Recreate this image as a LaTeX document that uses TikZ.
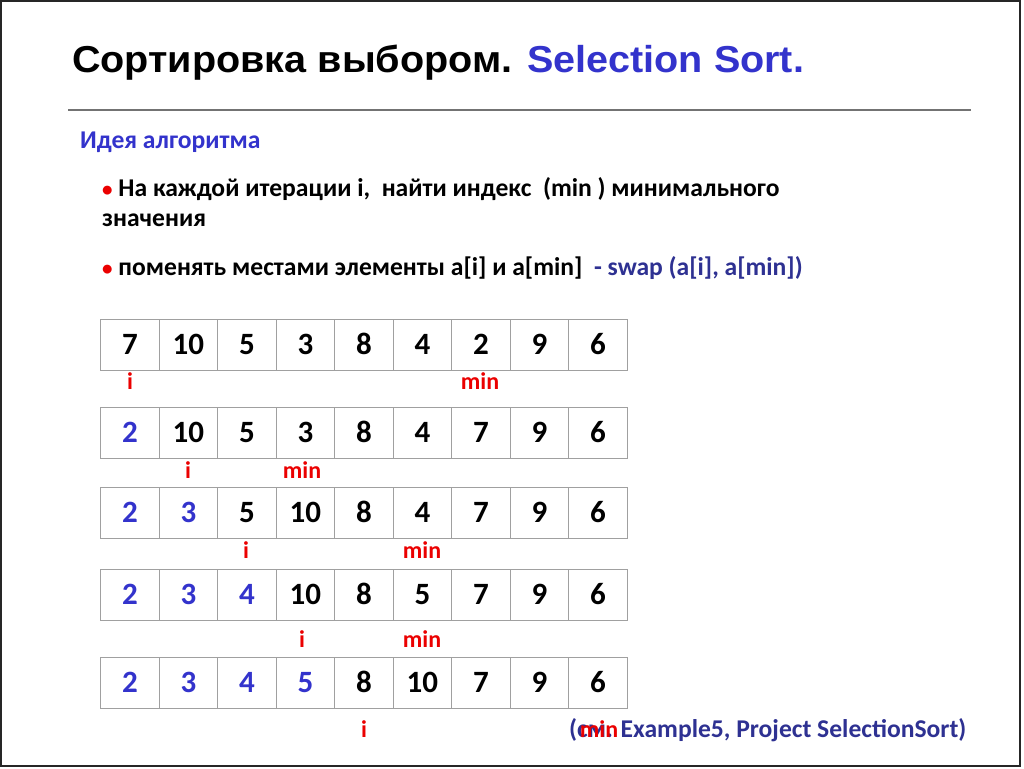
\documentclass[tikz,border=0pt]{standalone}
\usepackage{fontspec}
\setmainfont{Carlito}
\newfontfamily\titlefont{Liberation Sans}
\definecolor{tblue}{RGB}{51,51,204}
\definecolor{nblue}{RGB}{46,49,146}
\definecolor{tred}{RGB}{235,0,0}
\definecolor{cellgray}{RGB}{160,160,160}
\newcommand{\bul}{\textcolor{tred}{\fontsize{21}{21}\selectfont•}}
\begin{document}
\begin{tikzpicture}[x=1pt,y=-1pt,
  cell/.style={draw=cellgray, line width=1.4pt, minimum width=58.5pt, minimum height=51.4pt,
    inner sep=0pt, text height=19.6pt, text depth=0pt, anchor=center,
    font=\fontsize{31}{31}\selectfont\bfseries},
  lbl/.style={anchor=base, inner sep=0pt, text=tred, font=\fontsize{24}{24}\selectfont\bfseries},
  body/.style={anchor=base west, inner sep=0pt, font=\fontsize{25.6}{25.6}\selectfont\bfseries}]
\useasboundingbox (0,0) rectangle (1024,768);
\fill[white] (0,0) rectangle (1024,768);
\draw[line width=2pt, black!85] (1,1) rectangle (1020,766);
% title
\node[anchor=base west, inner sep=0pt, font=\titlefont\bfseries\fontsize{37.5}{37.5}\selectfont] (title) at (72,72)
  {\scalebox{1.055}[1]{Сортировка выбором. \textcolor{tblue}{Selection Sort.}}};
\draw[line width=2pt, black!55] (68,110) -- (971,110);
% text
\node[body, text=tblue] (idea) at (80,148) {Идея алгоритма};
\node[body] (b1) at (102,196) {\bul\ На каждой итерации i,\ \ найти индекс\ \ (min ) минимального};
\node[body] (b1b) at (102,226) {значения};
\node[body] (b2) at (102,275) {\bul\ поменять местами элементы a[i] и a[min]\ \ \textcolor{nblue}{- swap (a[i], a[min])}};
% rows
\foreach \v [count=\k from 0] in {7,10,5,3,8,4,2,9,6}
  \node[cell] (ra\k) at (129.95+58.5*\k,345) {\v};
\foreach \v [count=\k from 0] in {2,10,5,3,8,4,7,9,6}
  \node[cell] (rb\k) at (129.95+58.5*\k,433) {\ifnum\k<1 \color{tblue}\fi\v};
\foreach \v [count=\k from 0] in {2,3,5,10,8,4,7,9,6}
  \node[cell] (rc\k) at (129.95+58.5*\k,513) {\ifnum\k<2 \color{tblue}\fi\v};
\foreach \v [count=\k from 0] in {2,3,4,10,8,5,7,9,6}
  \node[cell] (rd\k) at (129.95+58.5*\k,595) {\ifnum\k<3 \color{tblue}\fi\v};
\foreach \v [count=\k from 0] in {2,3,4,5,8,10,7,9,6}
  \node[cell] (re\k) at (129.95+58.5*\k,683) {\ifnum\k<4 \color{tblue}\fi\v};
% labels
\node[lbl] (ia) at (130,389) {i};
\node[lbl] (ma) at (480,389) {min};
\node[lbl] (ib) at (188,478) {i};
\node[lbl] (mb) at (302,478) {min};
\node[lbl] (ic) at (246,558) {i};
\node[lbl] (mc) at (422,558) {min};
\node[lbl] (id) at (302,647) {i};
\node[lbl] (md) at (422,647) {min};
\node[lbl] (ie) at (364,737) {i};
\node[body, text=nblue] (ref) at (569,737) {(см. Example5, Project SelectionSort)};
\node[lbl] (me) at (599,737) {min};
\end{tikzpicture}
\end{document}
